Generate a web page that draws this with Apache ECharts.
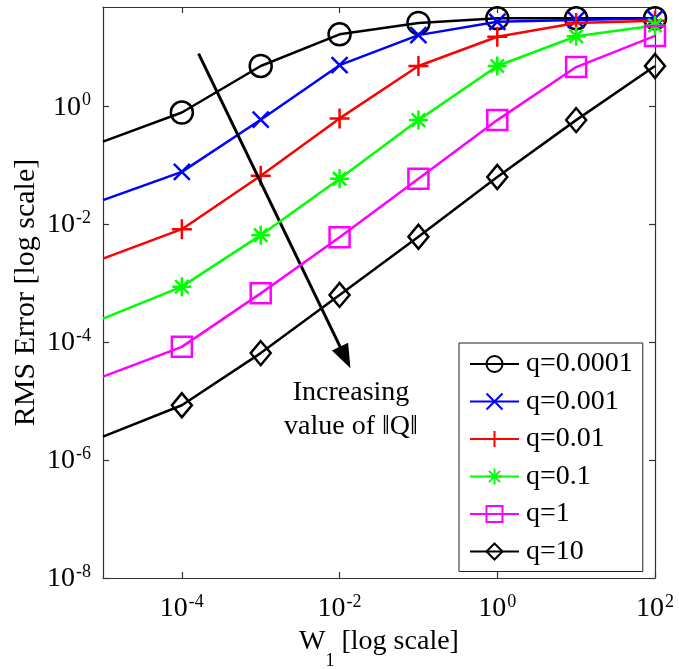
<!DOCTYPE html>
<html>
<head>
<meta charset="utf-8">
<script src="https://cdn.jsdelivr.net/npm/echarts@6/dist/echarts.min.js"></script>
<style>
html,body{margin:0;padding:0;background:#fff;}
#chart{width:679px;height:669px;}
</style>
</head>
<body>
<div id="chart"></div>
<script>
// W1 values (x axis, log scale); first entry is the left edge of the axis (no marker)
var wValues = [1e-5, 1e-4, 1e-3, 1e-2, 1e-1, 1, 10, 100];
var seriesNames = ['q=0.0001', 'q=0.001', 'q=0.01', 'q=0.1', 'q=1', 'q=10'];
// RMS error values
var rmsQ00001 = [0.25, 0.78, 4.8, 16.5, 25.7, 30.9, 30.9, 30.9];
var rmsQ0001  = [0.0255, 0.077, 0.59, 4.95, 16, 26.9, 28.8, 30.9];
var rmsQ001   = [0.0026, 0.0082, 0.066, 0.62, 4.8, 15, 25.7, 28];
var rmsQ01    = [0.00025, 0.00087, 0.0065, 0.059, 0.58, 4.8, 15.3, 23.4];
var rmsQ1     = [2.6e-5, 8.3e-5, 6.7e-4, 0.006, 0.059, 0.58, 4.6, 15.5];
var rmsQ10    = [2.5e-6, 8.5e-6, 6.5e-5, 6.3e-4, 0.0061, 0.063, 0.58, 4.8];
var xTickValues = [1e-4, 1e-2, 1, 100];
var yTickValues = [1e-8, 1e-6, 1e-4, 1e-2, 1];
var arrowStart = [1.63e-4, 7.8];
var arrowEnd = [1.18e-2, 5.5e-5];
var annotationText = 'Increasing\nvalue of \u2016Q\u2016';

var allValues = [rmsQ00001, rmsQ0001, rmsQ001, rmsQ01, rmsQ1, rmsQ10];
var colors = ['#000000', '#0000ff', '#ff0000', '#00ff00', '#ff00ff', '#000000'];
var symbols = [
  'path://M10,5A5,5,0,1,1,0,5A5,5,0,1,1,10,5Z',
  'path://M0,0L10,10M10,0L0,10',
  'path://M5,0L5,10M0,5L10,5',
  'path://M5,0L5,10M0,5L10,5M1.5,1.5L8.5,8.5M8.5,1.5L1.5,8.5',
  'path://M0,0L10,0L10,10L0,10Z',
  'path://M5,0L10,5L5,10L0,5Z'
];
var symbolSizes = [22, 16, 20, 19, 20, [20, 24]];

var FONT = 'Liberation Serif';

function expFmt(v) {
  var r = Math.round(Math.log10(v));
  return '{b|10}{s|' + r + '}';
}
var richLbl = {
  b: {fontFamily: FONT, fontSize: 28, color: '#000', lineHeight: 30, verticalAlign: 'bottom'},
  s: {fontFamily: FONT, fontSize: 18, color: '#000', lineHeight: 30, verticalAlign: 'top', padding: [0, 0, 16, 1]}
};

var series = allValues.map(function (vals, i) {
  return {
    name: seriesNames[i],
    type: 'line',
    xAxisIndex: 0,
    yAxisIndex: 0,
    data: vals.map(function (v, j) {
      var item = {value: [wValues[j], v]};
      if (j === 0) item.symbol = 'none';
      return item;
    }),
    symbol: symbols[i],
    symbolSize: symbolSizes[i],
    showAllSymbol: true,
    lineStyle: {color: colors[i], width: 2.5},
    itemStyle: {color: 'rgba(0,0,0,0)', borderColor: colors[i], borderWidth: 2.5},
    emphasis: {disabled: true},
    z: 2 + i
  };
});
series.push({
  name: 'arrow',
  type: 'line',
  data: [],
  markLine: {
    silent: true,
    animation: false,
    symbol: ['none', 'triangle'],
    symbolSize: [18, 24],
    label: {show: false},
    lineStyle: {color: '#000', width: 3, type: 'solid'},
    data: [[{coord: arrowStart}, {coord: arrowEnd}]]
  }
});

function axisBase(ticks) {
  return {
    axisLine: {show: true, lineStyle: {color: '#333', width: 1.2}},
    axisTick: {show: true, inside: true, length: 6, customValues: ticks, lineStyle: {color: '#333', width: 1.2}},
    splitLine: {show: false},
    minorTick: {show: false}
  };
}

var chart = echarts.init(document.getElementById('chart'), null, {renderer: 'canvas'});
chart.setOption({
  animation: false,
  backgroundColor: '#fff',
  grid: {left: 103, top: 7, right: 24, bottom: 91, containLabel: false, outerBoundsMode: 'none'},
  xAxis: [
    Object.assign(axisBase(xTickValues), {
      type: 'log', logBase: 10, min: 1e-5, max: 100,
      position: 'bottom',
      axisLabel: {formatter: expFmt, margin: 15, rich: richLbl, customValues: xTickValues, hideOverlap: false},
      name: '{n|W}{sub|1}{n| [log scale]}',
      nameLocation: 'middle', nameGap: 62, nameMoveOverlap: false,
      nameTextStyle: {
        verticalAlign: 'top',
        rich: {
          n: {fontFamily: FONT, fontSize: 28, color: '#000', lineHeight: 30, padding: [0, 0, 14, 0], verticalAlign: 'bottom'},
          sub: {fontFamily: FONT, fontSize: 18, color: '#000', lineHeight: 30, verticalAlign: 'bottom'}
        }
      }
    }),
    Object.assign(axisBase(xTickValues), {
      type: 'log', logBase: 10, min: 1e-5, max: 100,
      position: 'top', axisLabel: {show: false}
    })
  ],
  yAxis: [
    Object.assign(axisBase(yTickValues), {
      type: 'log', logBase: 10, min: 1e-8, max: 48,
      position: 'left',
      axisLabel: {formatter: expFmt, margin: 12, rich: richLbl, customValues: yTickValues, hideOverlap: false},
      name: 'RMS Error [log scale]',
      nameLocation: 'middle', nameGap: 62, nameRotate: 90, nameMoveOverlap: false,
      nameTextStyle: {fontFamily: FONT, fontSize: 30, color: '#000'}
    }),
    Object.assign(axisBase(yTickValues), {
      type: 'log', logBase: 10, min: 1e-8, max: 48,
      position: 'right', axisLabel: {show: false}
    })
  ],
  legend: {
    show: true,
    data: seriesNames,
    orient: 'vertical',
    left: 459, top: 343,
    width: 188,
    padding: [6, 10, 5, 10],
    itemGap: 7.5,
    itemWidth: 49,
    itemHeight: 20,
    backgroundColor: '#fff',
    borderColor: '#222',
    borderWidth: 1,
    borderRadius: 0,
    selectedMode: false,
    textStyle: {fontFamily: FONT, fontSize: 28, color: '#000', lineHeight: 30, padding: [0, 0, 0, 2]}
  },
  graphic: [{
    type: 'text',
    x: 351, y: 376,
    z: 100,
    style: {
      text: annotationText,
      font: '28px "Liberation Serif", "DejaVu Serif"',
      fill: '#000',
      textAlign: 'center',
      textVerticalAlign: 'top',
      lineHeight: 34
    }
  }],
  series: series
});
</script>
</body>
</html>
